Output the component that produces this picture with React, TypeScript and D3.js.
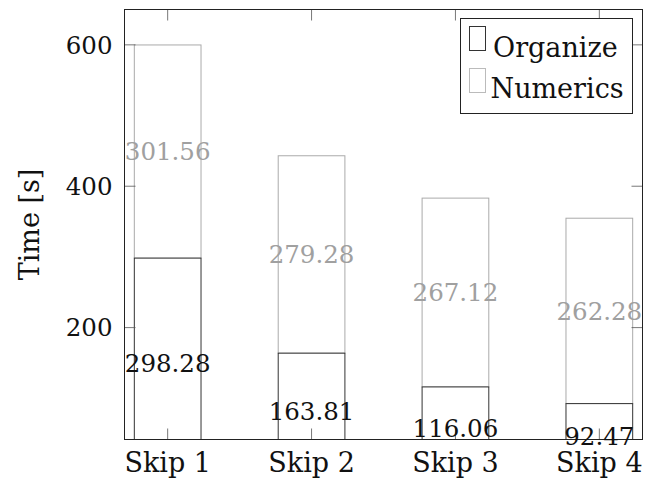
import * as d3 from 'd3'

const categories = ['Skip 1', 'Skip 2', 'Skip 3', 'Skip 4']
const organize = [298.28, 163.81, 116.06, 92.47]
const numerics = [301.56, 279.28, 267.12, 262.28]
const yTicks = [200, 400, 600]

const width = 645
const height = 482
const left = 124.5
const right = 642.5
const top = 9.5
const bottom = 439.5
const font = '"DejaVu Serif", serif'
const fs = 27
const numFs = 24.5

const x = d3.scalePoint<string>().domain(categories).range([left, right]).padding(0.3)
const y = d3.scaleLinear().domain([41.7, 650]).range([bottom, top])
const barW = 66.7

const App = () => {
  const ymin = y.domain()[0]
  const stacks = categories.map((c, i) => ({
    c,
    o0: ymin,
    o1: organize[i],
    n0: organize[i],
    n1: organize[i] + numerics[i],
  }))
  return (
    <svg width={width} height={height} style={{ position: 'absolute', left: 0, top: 0 }}
      fontFamily={font} fontSize={fs}>
      <defs>
        <clipPath id="plot">
          <rect x={left} y={top} width={right - left} height={bottom - top} />
        </clipPath>
      </defs>
      <g clipPath="url(#plot)">
        {stacks.map(s => (
          <g key={s.c}>
            <rect x={x(s.c)! - barW / 2} y={y(s.n1)} width={barW} height={y(s.n0) - y(s.n1)}
              fill="white" stroke="#aaaaaa" strokeWidth={1} />
            <rect x={x(s.c)! - barW / 2} y={y(s.o1)} width={barW} height={y(s.o0) - y(s.o1)}
              fill="white" stroke="#333333" strokeWidth={1} />
          </g>
        ))}
      </g>
      {/* ticks */}
      <g stroke="#555" strokeWidth={0.8}>
        {yTicks.map(t => (
          <g key={t}>
            <line x1={left} x2={left + 11} y1={y(t)} y2={y(t)} />
            <line x1={right} x2={right - 11} y1={y(t)} y2={y(t)} />
          </g>
        ))}
        {categories.map(c => (
          <g key={c}>
            <line x1={x(c)} x2={x(c)} y1={bottom} y2={bottom - 11} />
            <line x1={x(c)} x2={x(c)} y1={top} y2={top + 11} />
          </g>
        ))}
      </g>
      <rect x={left} y={top} width={right - left} height={bottom - top} fill="none" stroke="#222" strokeWidth={1} />
      {/* value labels */}
      {stacks.map((s, i) => (
        <g key={s.c} textAnchor="middle" fontSize={numFs}>
          <text x={x(s.c)} y={y((s.n0 + s.n1) / 2)} dy="0.36em" fill="#a0a0a0">
            {numerics[i].toFixed(2)}
          </text>
          <text x={x(s.c)} y={y(s.o1 / 2)} dy="0.36em" fill="#111">
            {s.o1.toFixed(2)}
          </text>
        </g>
      ))}
      {/* tick labels */}
      {yTicks.map(t => (
        <text key={t} x={left - 12} y={y(t)} dy="0.36em" textAnchor="end" fill="#111" fontSize={numFs}>{t}</text>
      ))}
      {categories.map(c => (
        <text key={c} x={x(c)} y={472} textAnchor="middle" fill="#111">{c}</text>
      ))}
      <text transform={`translate(39,${(top + bottom) / 2}) rotate(-90)`} textAnchor="middle" fill="#111">Time [s]</text>
      {/* legend */}
      <g>
        <rect x={460.5} y={18.5} width={172} height={95} fill="white" stroke="#222" strokeWidth={1} />
        <rect x={469.5} y={26.5} width={16} height={24} fill="white" stroke="#333" strokeWidth={1} />
        <text x={493} y={56.5} fill="#111">Organize</text>
        <rect x={469.5} y={68.5} width={16} height={24} fill="white" stroke="#bbb" strokeWidth={1} />
        <text x={490.5} y={97.5} fill="#111">Numerics</text>
      </g>
    </svg>
  )
}

export default App
